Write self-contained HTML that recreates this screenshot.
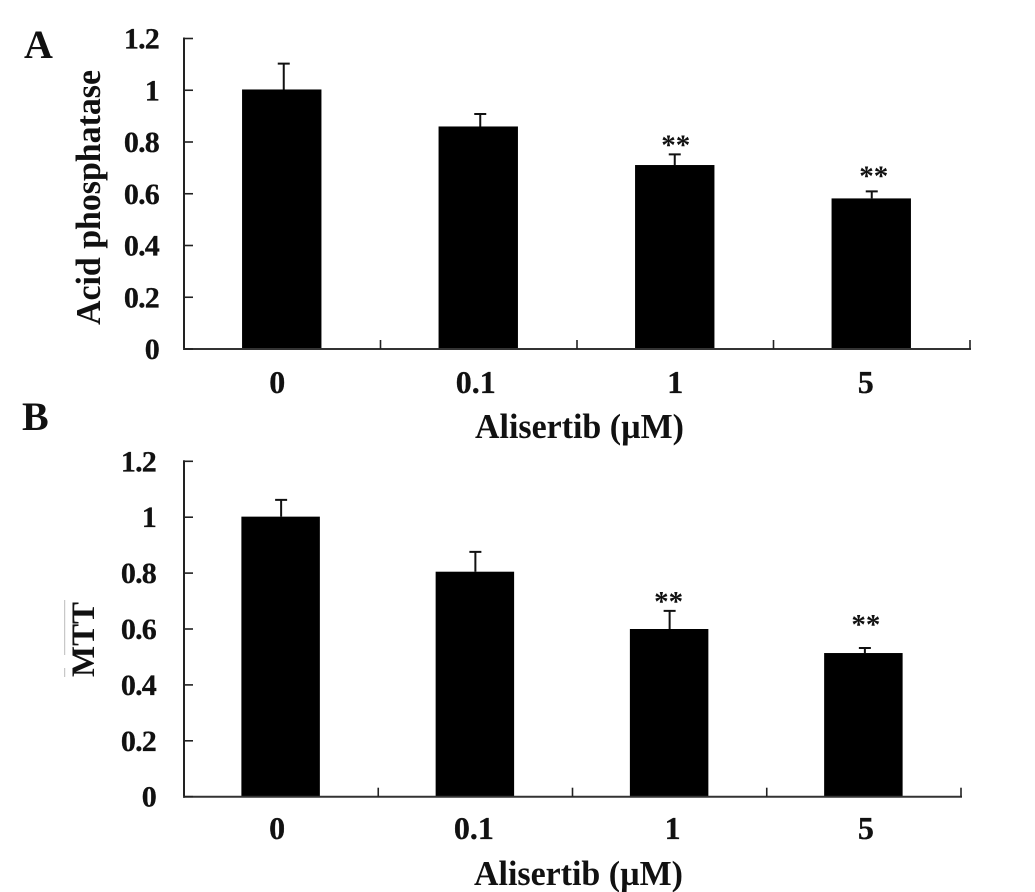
<!DOCTYPE html>
<html lang="en">
<head>
<meta charset="utf-8">
<title>Alisertib: acid phosphatase and MTT</title>
<style>
html,body{margin:0;padding:0;background:#fff;}
#figure{display:block;}
text{font-family:"Liberation Serif",serif;font-weight:bold;fill:#111;}
</style>
</head>
<body>
<svg id="figure" xmlns="http://www.w3.org/2000/svg" width="1035" height="892" viewBox="0 0 1035 892"></svg>
<script>
const categories = ["0", "0.1", "1", "5"];
const yTickLabels = ["0", "0.2", "0.4", "0.6", "0.8", "1", "1.2"];
const yTickValues = [0, 0.2, 0.4, 0.6, 0.8, 1, 1.2];
const acidValues = [1.003, 0.86, 0.711, 0.582];
const acidErrors = [0.1, 0.048, 0.041, 0.027];
const acidSignificance = ["", "", "**", "**"];
const mttValues = [1.002, 0.805, 0.6, 0.514];
const mttErrors = [0.06, 0.071, 0.065, 0.018];
const mttSignificance = ["", "", "**", "**"];

const NS = "http://www.w3.org/2000/svg";
const svg = document.getElementById("figure");

function add(parent, tag, attrs, txt) {
  const el = document.createElementNS(NS, tag);
  for (const k in attrs) el.setAttribute(k, attrs[k]);
  if (txt !== undefined) el.textContent = txt;
  parent.appendChild(el);
  return el;
}

function drawPanel(p) {
  const g = add(svg, "g", {});
  
  

  const y = v => p.y0 - (v / 1.2) * (p.y0 - p.y12);
  const band = (p.x1 - p.x0) / p.categories.length;
  const cx = i => p.x0 + band * (i + 0.5);

  const letter = add(g, "text", {x: p.letterX, y: p.letterY, "font-size": 40}, p.letter);
  
  

  // bars, drawn first so the axis sits on top
  p.values.forEach((v, i) => {
    const w = band * 0.404;
    const bar = add(g, "rect", {x: cx(i) - w / 2 - 0.5, y: y(v), width: w, height: y(0) - y(v), fill: "#000"});
    
    

    const ex = cx(i) + p.errDx[i];
    const top = y(v + p.errors[i]);
    const err = add(g, "path", {
      d: "M" + ex + " " + y(v) + "V" + top + "M" + (ex - 6) + " " + top + "H" + (ex + 6),
      stroke: "#111", "stroke-width": 2, fill: "none"
    });
    
    

    if (p.significance[i]) {
      const s = add(g, "text", {x: ex + p.starDx[i], y: top + p.starDy[i], "font-size": 29, "text-anchor": "middle"}, p.significance[i]);
      
      
    }
  });

  // axes
  const yAxis = add(g, "line", {x1: p.x0, x2: p.x0, y1: y(1.2) - 1, y2: y(0) + 1, stroke: "#222", "stroke-width": 2});
  
  
  const xAxis = add(g, "line", {x1: p.x0 - 1, x2: p.x1 + 1, y1: y(0), y2: y(0), stroke: "#333", "stroke-width": 2});
  
  

  yTickValues.forEach((v, i) => {
    const t = add(g, "line", {x1: p.x0, x2: p.x0 + 9, y1: y(v), y2: y(v), stroke: "#222", "stroke-width": 1.6});
    
    
    const l = add(g, "text", {x: p.yLabelX, y: y(v) + 10, "font-size": 30, "letter-spacing": -0.8, "text-anchor": "end", stroke: "#111", "stroke-width": 0.3}, yTickLabels[i]);
    
    
  });

  p.categories.forEach((c, i) => {
    const tx = p.x0 + band * (i + 1);
    const t = add(g, "line", {x1: tx, x2: tx, y1: y(0), y2: y(0) - 9, stroke: "#222", "stroke-width": 1.6});
    
    
    const l = add(g, "text", {x: cx(i) + p.labelDx[i], y: p.xLabelY, "font-size": 32, "text-anchor": "middle", stroke: "#111", "stroke-width": 0.3}, c);
    
    
  });

  const xt = add(g, "text", {x: p.xTitleX, y: p.xTitleY, "font-size": 35, textLength: 209, lengthAdjust: "spacingAndGlyphs"}, "Alisertib (µM)");
  
  

  const yt = add(g, "text", {
    transform: "translate(" + p.yTitleX + " " + p.yTitleY + ") rotate(-90)",
    "font-size": p.yTitleSize, textLength: p.yTitleLen, lengthAdjust: "spacingAndGlyphs"
  }, p.yTitle);
  
  
}

drawPanel({
  key: "acid", letter: "A", letterX: 24, letterY: 58,
  categories: categories, values: acidValues, errors: acidErrors, significance: acidSignificance,
  x0: 184, x1: 970, y0: 349, y12: 38.5,
  errDx: [1.5, 1.5, -0.5, 0], starDx: [0, 0, 1, 2], starDy: [0, 0, 0, -6], labelDx: [-5, -3, 0, -6],
  yLabelX: 159, xLabelY: 393, xTitleX: 475, xTitleY: 438,
  yTitle: "Acid phosphatase", yTitleSize: 35, yTitleX: 100, yTitleY: 325, yTitleLen: 255
});

drawPanel({
  key: "mtt", letter: "B", letterX: 22, letterY: 430,
  categories: categories, values: mttValues, errors: mttErrors, significance: mttSignificance,
  x0: 184, x1: 961, y0: 796.7, y12: 461.3,
  errDx: [0, 0, 0, 1], starDx: [0, 0, -1, 1], starDy: [0, 0, 0, -14], labelDx: [-4, -1.5, 3, 2],
  yLabelX: 156, xLabelY: 839, xTitleX: 474, xTitleY: 885,
  yTitle: "MTT", yTitleSize: 33, yTitleX: 94, yTitleY: 677, yTitleLen: 75
});

const ov1 = add(svg, "line", {x1: 64.7, x2: 64.7, y1: 600, y2: 655, stroke: "#bbb", "stroke-width": 1});


const ov2 = add(svg, "line", {x1: 64.7, x2: 64.7, y1: 668, y2: 677, stroke: "#bbb", "stroke-width": 1});


</script>
</body>
</html>
